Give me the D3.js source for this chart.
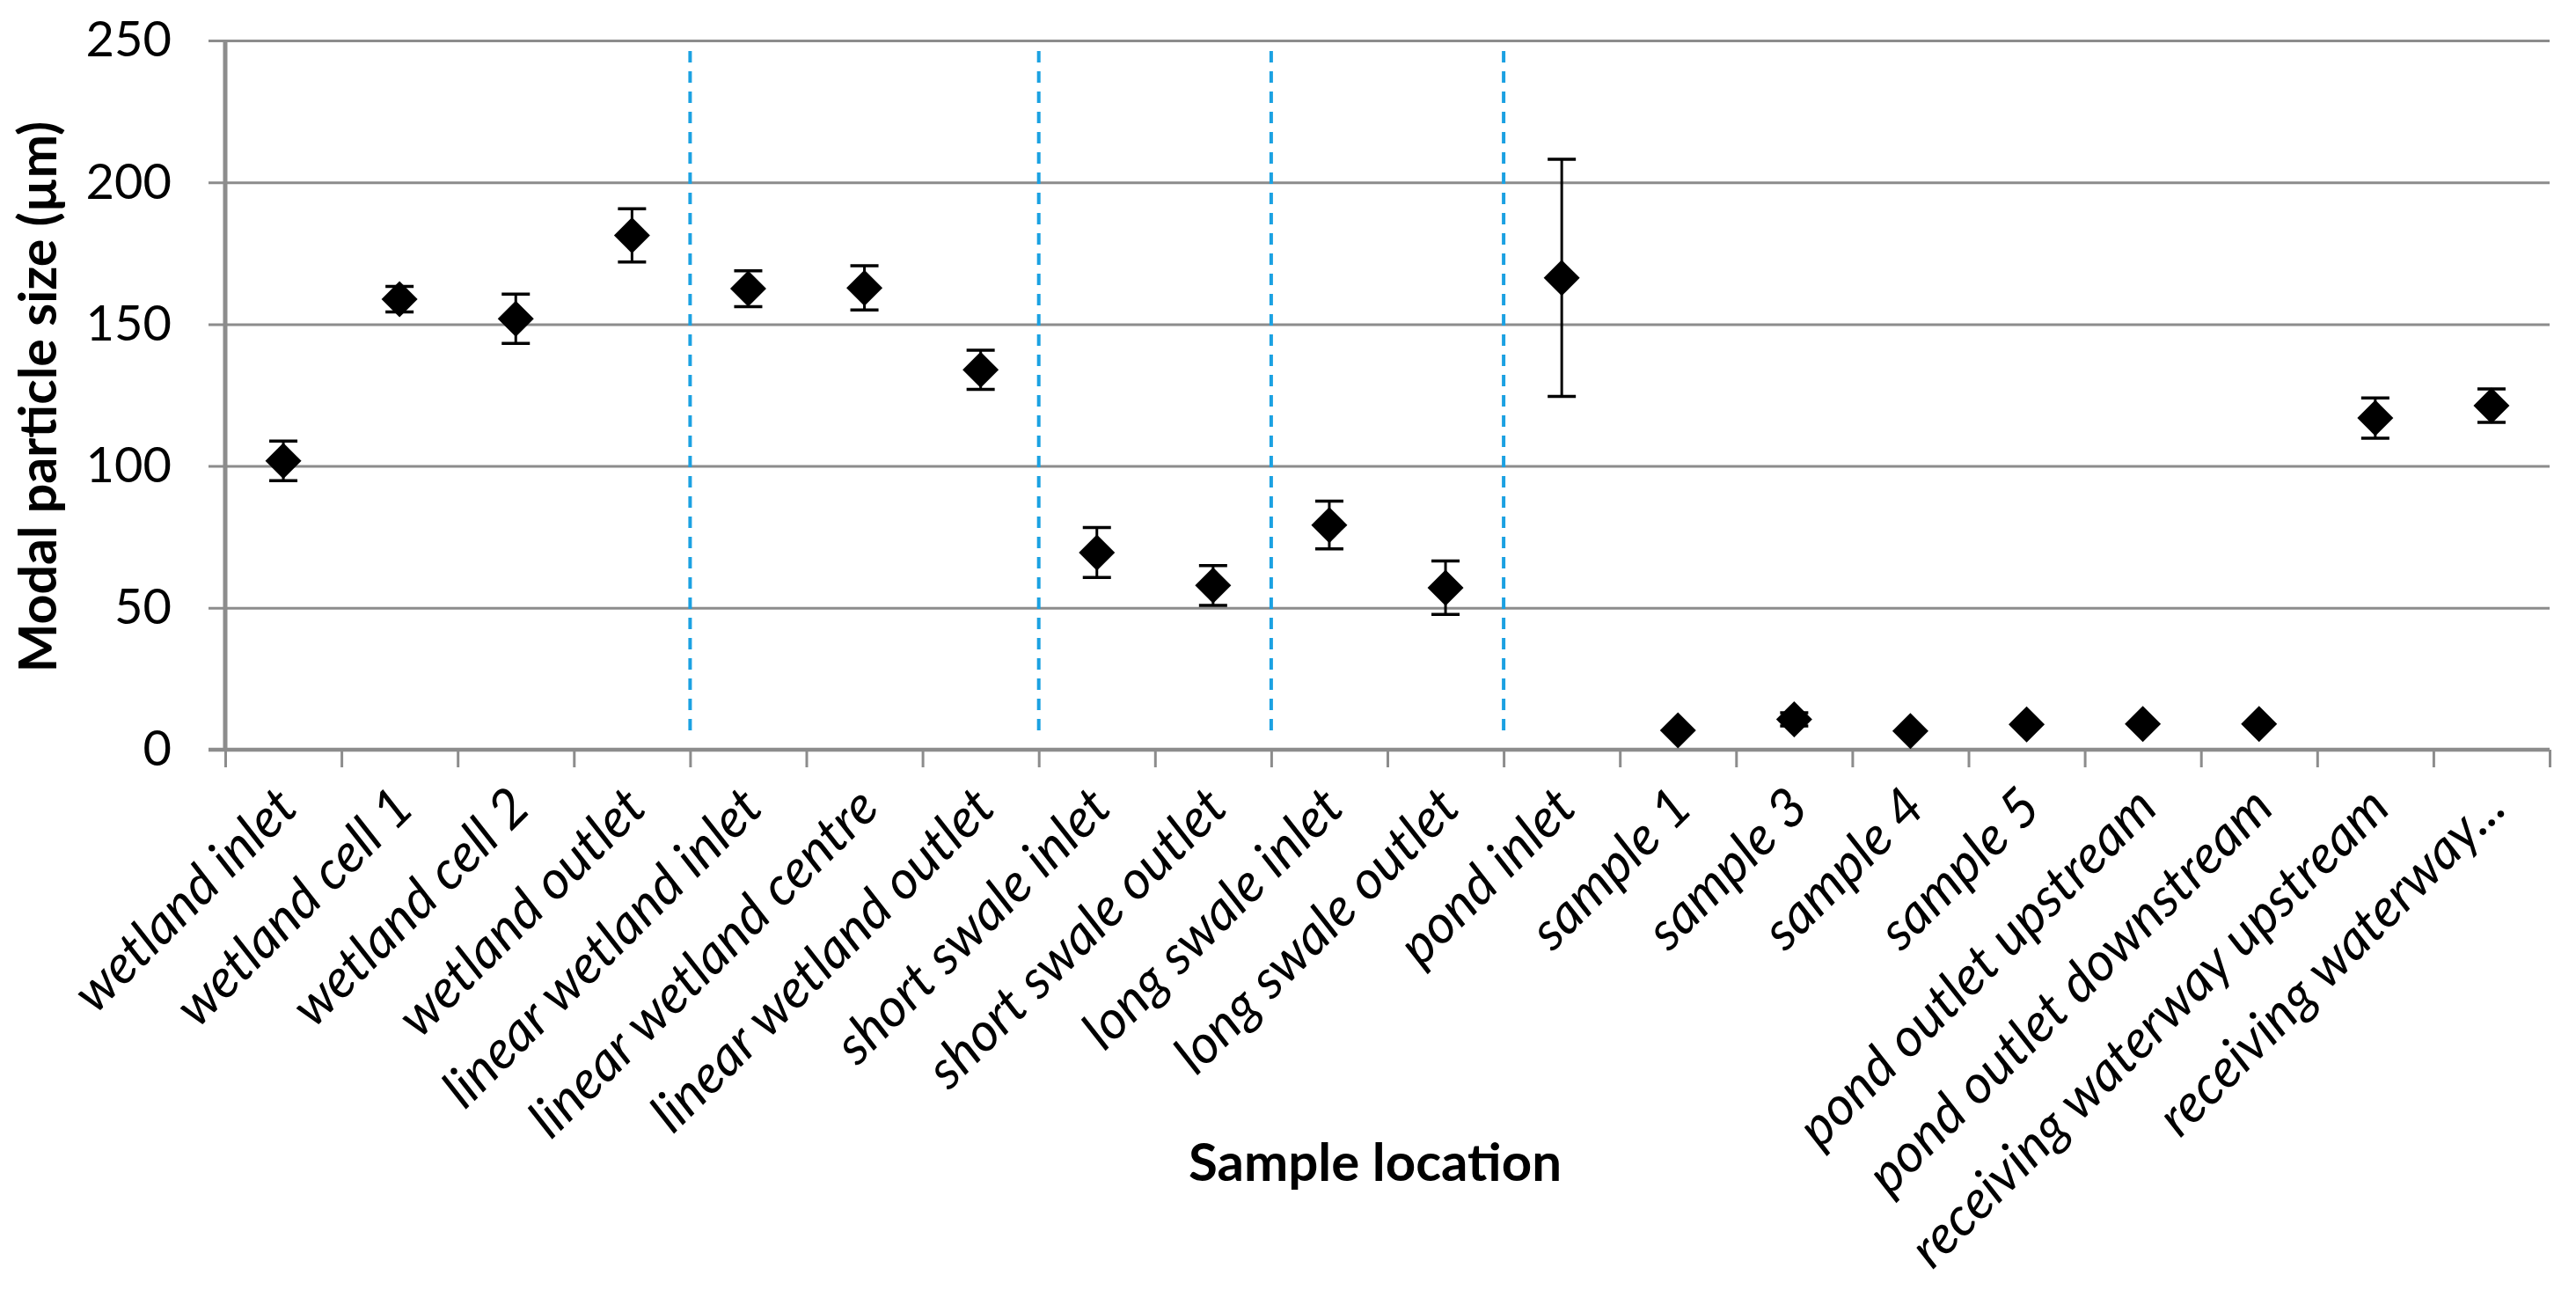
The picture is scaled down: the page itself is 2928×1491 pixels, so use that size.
<!DOCTYPE html>
<html>
<head>
<meta charset="utf-8">
<script src="https://cdn.jsdelivr.net/npm/d3@7"></script>
<style>
    body { margin: 0; background: #fff; }
    svg { display: block; }
    text { font-family: Lato, "Open Sans", sans-serif; fill: #000; }
</style>
</head>
<body>
<svg class="chart" width="2928" height="1491"></svg>
<script>
var categories = [
    "wetland inlet", "wetland cell 1", "wetland cell 2", "wetland outlet",
    "linear wetland inlet", "linear wetland centre", "linear wetland outlet",
    "short swale inlet", "short swale outlet", "long swale inlet", "long swale outlet",
    "pond inlet", "sample 1", "sample 3", "sample 4", "sample 5",
    "pond outlet upstream", "pond outlet downstream",
    "receiving waterway upstream", "receiving waterway..."
];
var modalSize = [101.8, 158.8, 151.9, 181.3, 162.5, 162.8, 133.9, 69.5, 57.9, 79.2, 57.1,
                 166.3, 6.8, 10.7, 6.6, 8.9, 9.1, 9.1, 116.9, 121.3];
var errorSize = [7.0, 4.5, 8.7, 9.4, 6.3, 7.8, 6.9, 8.8, 7.0, 8.4, 9.4,
                 41.8, 0, 2.3, 0, 0, 0, 0, 7.1, 5.9];
// group separators sit on the category boundaries after these many categories
var separators = [4, 7, 9, 11];
var yTicks = [0, 50, 100, 150, 200, 250];

var svg = d3.select("svg.chart");
var plotLeft = 256, plotRight = 2898, plotTop = 46, plotBottom = 852;

var x = d3.scaleBand()
    .domain(categories)
    .range([plotLeft, plotRight])
    .padding(0);
var xEdge = d3.scaleLinear()
    .domain([0, categories.length])
    .range([plotLeft, plotRight]);
var y = d3.scaleLinear()
    .domain([0, 250])
    .range([plotBottom, plotTop]);

// horizontal gridlines (they reach a bit left of the axis, like tick marks)
var grid = svg.append("g")
    .attr("transform", "translate(237,0)")
    .call(d3.axisRight(y).tickValues(yTicks.slice(1)).tickSize(plotRight - 237).tickFormat(""));
grid.select(".domain").remove();
grid.selectAll("line").attr("stroke", "#8c8c8c").attr("stroke-width", 3);

// y tick labels
var yAxis = svg.append("g")
    .attr("transform", "translate(" + plotLeft + ",0)")
    .call(d3.axisLeft(y).tickValues(yTicks).tickSize(0).tickPadding(61));
yAxis.select(".domain").remove();
yAxis.selectAll("text")
    .attr("font-family", "Lato, sans-serif")
    .attr("font-size", 56)
    .attr("fill", "#000");

// x axis line with ticks on category boundaries
var xAxis = svg.append("g")
    .attr("transform", "translate(0," + plotBottom + ")")
    .call(d3.axisBottom(xEdge).tickValues(d3.range(categories.length + 1)).tickSize(20).tickSizeOuter(0).tickFormat(""));
xAxis.select(".domain").remove();
xAxis.selectAll("line").attr("stroke", "#8c8c8c").attr("stroke-width", 3);
svg.append("line")
    .attr("x1", 237).attr("x2", plotRight)
    .attr("y1", plotBottom).attr("y2", plotBottom)
    .attr("stroke", "#8c8c8c").attr("stroke-width", 4.5);
svg.append("line")
    .attr("x1", plotLeft).attr("x2", plotLeft)
    .attr("y1", plotTop).attr("y2", plotBottom + 2)
    .attr("stroke", "#8c8c8c").attr("stroke-width", 5);

// dashed group separators
svg.selectAll("line.sep")
    .data(separators)
    .enter().append("line")
    .classed("sep", true)
    .attr("x1", function (d) { return xEdge(d); })
    .attr("x2", function (d) { return xEdge(d); })
    .attr("y1", 58)
    .attr("y2", 836)
    .attr("stroke", "#1ba1e2")
    .attr("stroke-width", 4)
    .attr("stroke-dasharray", "13,10");

// category labels, rotated
svg.selectAll("text.cat")
    .data(categories)
    .enter().append("text")
    .classed("cat", true)
    .attr("transform", function (d) {
        return "translate(" + (x(d) + x.bandwidth() / 2 - 12) + "," + 890 + ") rotate(-45)";
    })
    .attr("text-anchor", "end")
    .attr("dy", "0.72em")
    .attr("font-size", 61)
    .attr("font-style", "italic")
    .text(function (d) { return d; });

// error bars
var points = categories.map(function (c, i) {
    return { cat: c, value: modalSize[i], err: errorSize[i] };
});
var bars = svg.selectAll("g.err")
    .data(points.filter(function (p) { return p.err > 0; }))
    .enter().append("g")
    .classed("err", true)
    .attr("stroke", "#000")
    .attr("stroke-width", 3);
bars.append("line")
    .attr("x1", function (p) { return x(p.cat) + x.bandwidth() / 2; })
    .attr("x2", function (p) { return x(p.cat) + x.bandwidth() / 2; })
    .attr("y1", function (p) { return y(p.value + p.err); })
    .attr("y2", function (p) { return y(p.value - p.err); });
[1, -1].forEach(function (sign) {
    bars.append("line")
        .attr("x1", function (p) { return x(p.cat) + x.bandwidth() / 2 - 16; })
        .attr("x2", function (p) { return x(p.cat) + x.bandwidth() / 2 + 16; })
        .attr("y1", function (p) { return y(p.value + sign * p.err); })
        .attr("y2", function (p) { return y(p.value + sign * p.err); })
        .attr("stroke-width", 3.5);
});

// diamond markers
svg.selectAll("path.marker")
    .data(points)
    .enter().append("path")
    .classed("marker", true)
    .attr("d", d3.symbol().type(d3.symbolSquare).size(840))
    .attr("transform", function (p) {
        return "translate(" + (x(p.cat) + x.bandwidth() / 2) + "," + y(p.value) + ") rotate(45)";
    })
    .attr("fill", "#000");

// axis titles
svg.append("text")
    .attr("transform", "translate(64,451) rotate(-90)")
    .attr("text-anchor", "middle")
    .attr("font-size", 59)
    .attr("font-weight", "bold")
    .text("Modal particle size (\u00b5m)");
svg.append("text")
    .attr("x", 1563)
    .attr("y", 1342)
    .attr("text-anchor", "middle")
    .attr("font-size", 60)
    .attr("font-weight", "bold")
    .text("Sample location");
</script>
</body>
</html>
